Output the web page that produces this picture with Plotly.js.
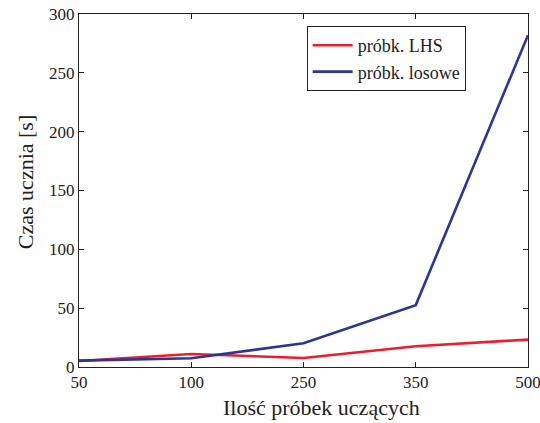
<!DOCTYPE html>
<html><head><meta charset="utf-8">
<script src="https://cdn.plot.ly/plotly-3.0.1.min.js"></script>
<style>body{margin:0;background:#fff}#chart{width:540px;height:423px}</style>
</head><body><div id="chart"></div>
<script>
const categories = ['50', '100', '250', '350', '500'];
const lhsTimes = [5.1, 11.1, 7.7, 17.6, 23.3];
const randomTimes = [5.4, 7.4, 20.2, 52.6, 282];
const seriesNames = ['próbk. LHS', 'próbk. losowe'];
const yTicks = [0, 50, 100, 150, 200, 250, 300];
const xTitle = 'Ilość próbek uczących';
const yTitle = 'Czas ucznia [s]';

const font = 'Liberation Serif, Times New Roman, serif';
const traces = [
  {x: categories, y: lhsTimes, name: seriesNames[0], mode: 'lines', line: {color: '#ee1d2b', width: 2.6}},
  {x: categories, y: randomTimes, name: seriesNames[1], mode: 'lines', line: {color: '#2b3696', width: 2.6}}
];
const layout = {
  width: 540, height: 423,
  margin: {l: 79, r: 12, t: 14, b: 56},
  paper_bgcolor: '#fff', plot_bgcolor: '#fff',
  font: {family: font, size: 17, color: '#222'},
  showlegend: true,
  legend: {x: 0.507, y: 0.966, xanchor: 'left', yanchor: 'top', bgcolor: '#fff',
    bordercolor: '#222', borderwidth: 1, font: {family: font, size: 18, color: '#222'},
    tracegroupgap: 0, itemwidth: 40},
  xaxis: {type: 'category', range: [0, 4], tickvals: categories, ticktext: categories,
    ticks: 'inside', ticklen: 5, tickcolor: '#222', showline: true, linecolor: '#222', linewidth: 1,
    mirror: 'ticks', showgrid: false, zeroline: false,
    tickfont: {family: font, size: 17, color: '#222'}},
  yaxis: {range: [0, 300], tickvals: yTicks, ticks: 'inside', ticklen: 5, tickcolor: '#222',
    showline: true, linecolor: '#222', linewidth: 1, mirror: 'ticks', showgrid: false, zeroline: false,
    tickfont: {family: font, size: 17, color: '#222'}},
  annotations: [
    {text: xTitle, xref: 'paper', yref: 'paper', x: 0.539, y: 0, yshift: -40,
      xanchor: 'center', yanchor: 'middle', showarrow: false,
      font: {family: font, size: 22, color: '#222'}},
    {text: yTitle, xref: 'paper', yref: 'paper', x: -0.12, y: 0.524, textangle: -90,
      xanchor: 'center', yanchor: 'middle', showarrow: false,
      font: {family: font, size: 22, color: '#222'}}
  ]
};
Plotly.newPlot('chart', traces, layout, {displayModeBar: false, staticPlot: true});
</script></body></html>
